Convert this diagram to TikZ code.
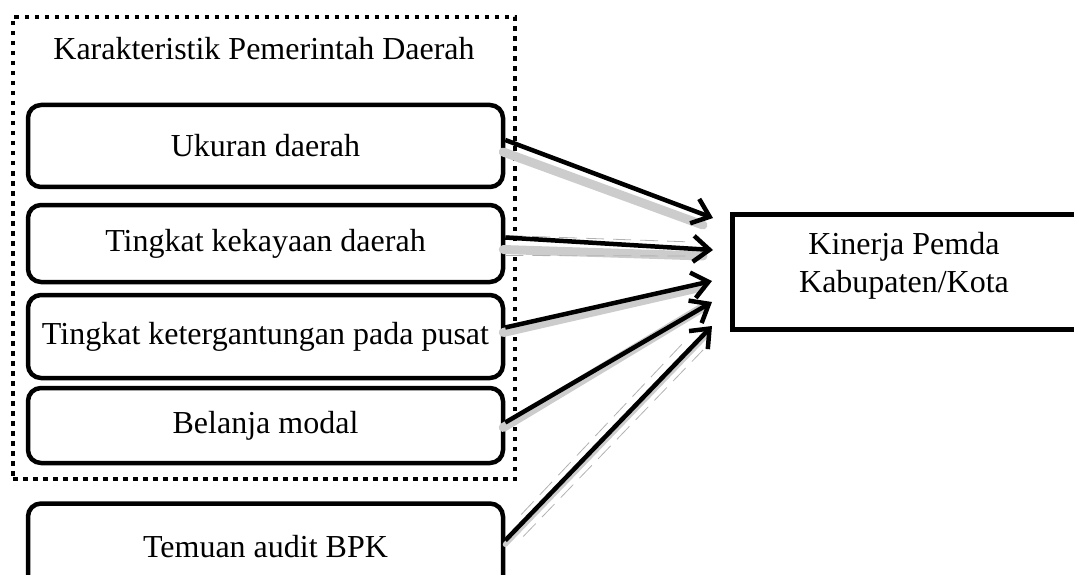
\documentclass[tikz,border=0pt]{standalone}
\usepackage{fontspec}
\setmainfont{Liberation Serif}
\usetikzlibrary{arrows.meta,calc}
\begin{document}
\begin{tikzpicture}[x=1pt,y=-1pt,
  txt/.style={font=\fontsize{32}{38}\selectfont},
  rbox/.style={txt, draw, line width=4.5pt, rounded corners=13pt, minimum width=475pt, inner sep=0pt},
  dotbox/.style={draw, line width=4.5pt, dash pattern=on 4.5pt off 5.5pt, inner sep=0pt},
  kbox/.style={draw, line width=4.5pt, inner sep=0pt},
  arr/.style={line width=4.5pt, -{Straight Barb[length=16pt,width=26pt]}},
  shade/.style={gray!40, line width=9pt, line cap=round},
  ghost/.style={gray!60, line width=0.8pt, dash pattern=on 18pt off 9pt}
]
\useasboundingbox (0,0) rectangle (1074,575);
\clip (0,0) rectangle (1074,575);

% group frame
\node[dotbox, minimum width=502pt, minimum height=462pt] (grp) at (264,248) {};
\node[txt, anchor=base] (title) at (264,60) {Karakteristik Pemerintah Daerah};

% boxes
\node[rbox, minimum height=82pt] (b1) at (265.5,146) {Ukuran daerah};
\node[rbox, minimum height=77pt] (b2) at (265.5,243.5) {Tingkat kekayaan daerah};
\node[rbox, minimum height=83pt] (b3) at (265.5,336.5) {Tingkat ketergantungan pada pusat};
\node[rbox, minimum height=75pt] (b4) at (265.5,425.5) {Belanja modal};
\node[rbox, minimum height=86pt] (b5) at (265.5,546.5) {Temuan audit BPK};

% target
\node[kbox, anchor=north west, minimum width=380pt, minimum height=115pt] (k) at (730,212) {};
\node[txt, align=center] (kt) at (904,266) {Kinerja Pemda\\Kabupaten/Kota};

% arrow end points
\coordinate (e1) at (713,218);
\coordinate (e2) at (713,250);
\coordinate (e3) at (712,281);
\coordinate (e4) at (712,302);
\coordinate (e5) at (712,326);

% shadows
\draw[shade] ([shift={(-2,6)}]b1.east) -- ([shift={(-10,7)}]e1);
\draw[shade] ([shift={(-2,6)}]b2.east) -- ([shift={(-10,6)}]e2);
\draw[shade] ([shift={(-2,-4)}]b3.east) -- ([shift={(-10,6)}]e3);
\draw[shade] ([shift={(-2,2)}]b4.east) -- ([shift={(-10,6)}]e4);
\draw[shade, line width=5pt] ([shift={(0,-2)}]b5.east) -- ([shift={(-6,10)}]e5);
\draw[ghost] ([shift={(0,-8)}]b2.east) -- ([shift={(-20,-8)}]e2);
\draw[ghost] ([shift={(0,12)}]b2.east) -- ([shift={(-20,6)}]e2);
\draw[ghost] ([shift={(16,-32)}]b5.east) -- ([shift={(-28,16)}]e5);
\draw[ghost] ([shift={(18,-10)}]b5.east) -- ([shift={(-9,24)}]e5);

% arrows
\draw[arr] ([shift={(0,-6)}]b1.east) -- (e1);
\draw[arr] ([shift={(0,-6)}]b2.east) -- (e2);
\draw[arr] ([shift={(0,-9)}]b3.east) -- (e3);
\draw[arr] ([shift={(0,-3)}]b4.east) -- (e4);
\draw[arr] ([shift={(0,-6)}]b5.east) -- (e5);
\end{tikzpicture}
\end{document}
